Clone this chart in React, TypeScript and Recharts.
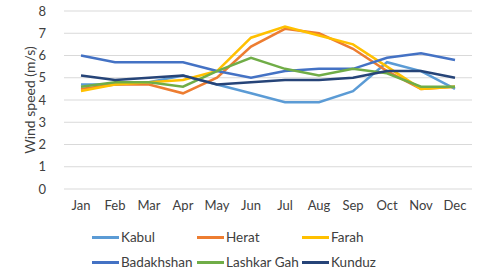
import React from 'react';
import { LineChart, Line, XAxis, YAxis, CartesianGrid } from 'recharts';

const months = ['Jan', 'Feb', 'Mar', 'Apr', 'May', 'Jun', 'Jul', 'Aug', 'Sep', 'Oct', 'Nov', 'Dec'];
const kabul = [4.7, 4.7, 4.8, 5.1, 4.7, 4.3, 3.9, 3.9, 4.4, 5.7, 5.3, 4.5];
const herat = [4.5, 4.7, 4.7, 4.3, 5.0, 6.4, 7.2, 7.0, 6.3, 5.3, 4.5, 4.6];
const farah = [4.4, 4.7, 4.8, 4.9, 5.3, 6.8, 7.3, 6.9, 6.5, 5.5, 4.5, 4.6];
const badakhshan = [6.0, 5.7, 5.7, 5.7, 5.3, 5.0, 5.3, 5.4, 5.4, 5.9, 6.1, 5.8];
const lashkarGah = [4.6, 4.8, 4.8, 4.6, 5.3, 5.9, 5.4, 5.1, 5.4, 5.2, 4.6, 4.6];
const kunduz = [5.1, 4.9, 5.0, 5.1, 4.7, 4.8, 4.9, 4.9, 5.0, 5.3, 5.3, 5.0];
const yTicks = [0, 1, 2, 3, 4, 5, 6, 7, 8];

const series = [
  { key: 'Kabul', values: kabul, color: '#5B9BD5' },
  { key: 'Herat', values: herat, color: '#ED7D31' },
  { key: 'Farah', values: farah, color: '#FFC000' },
  { key: 'Badakhshan', values: badakhshan, color: '#4472C4' },
  { key: 'Lashkar Gah', values: lashkarGah, color: '#70AD47' },
  { key: 'Kunduz', values: kunduz, color: '#264478' },
];

const data = months.map((m, i) => {
  const row: Record<string, string | number> = { month: m };
  series.forEach((s) => {
    row[s.key] = s.values[i];
  });
  return row;
});

const font = 'Lato, "Open Sans", sans-serif';

// legend drawn as plain html below the plot, in series order
const ChartLegend = () => (
  <div
    style={{
      position: 'absolute',
      left: 92,
      top: 228,
      display: 'grid',
      gridTemplateColumns: '105px 105px 105px',
      rowGap: 7,
      fontFamily: font,
      fontSize: 13.5,
      color: '#404040',
    }}
  >
    {series.map((s) => (
      <div key={s.key} style={{ display: 'flex', alignItems: 'center', height: 18 }}>
        <span style={{ display: 'inline-block', width: 27, height: 3, background: s.color, marginRight: 2 }} />
        <span>{s.key}</span>
      </div>
    ))}
  </div>
);

const App = () => {
  return (
    <div style={{ position: 'absolute', left: 0, top: 0, width: 498, height: 277, background: '#fff' }}>
      <LineChart width={498} height={277} data={data} margin={{ top: 11, right: 26, bottom: 58, left: 0 }}>
        <CartesianGrid vertical={false} stroke="#d9d9d9" />
        <XAxis
          dataKey="month"
          padding={{ left: 17, right: 17 }}
          axisLine={false}
          tickLine={false}
          tickSize={0}
          tickMargin={12}
          tick={{ fill: '#404040', fontSize: 13, fontFamily: font }}
          height={30}
          interval={0}
        />
        <YAxis
          domain={[0, 8]}
          ticks={yTicks}
          interval={0}
          width={64}
          axisLine={false}
          tickLine={false}
          tickSize={0}
          tickMargin={18}
          tick={{ fill: '#404040', fontSize: 13, fontFamily: font }}
          label={{
            value: 'Wind speed (m/s)',
            angle: -90,
            position: 'insideLeft',
            offset: 30,
            style: { textAnchor: 'middle', fill: '#404040', fontSize: 14, fontFamily: font },
          }}
        />
        {series.map((s) => (
          <Line
            key={s.key}
            type="linear"
            dataKey={s.key}
            stroke={s.color}
            strokeWidth={2.5}
            dot={false}
            isAnimationActive={false}
          />
        ))}
      </LineChart>
      <ChartLegend />
    </div>
  );
};

export default App;
